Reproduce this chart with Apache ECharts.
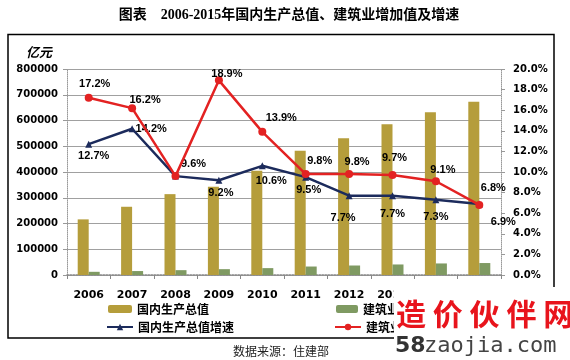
<!DOCTYPE html>
<html><head><meta charset="utf-8">
<script src="https://cdn.jsdelivr.net/npm/echarts@6/dist/echarts.min.js"></script>
<style>html,body{margin:0;padding:0;background:#fff}#c{width:570px;height:360px}</style>
</head><body><div id="c"></div>
<script>
var years = ['2006','2007','2008','2009','2010','2011','2012','2013','2014','2015'];
var gdp = [216000, 265000, 314000, 343000, 405000, 483000, 531000, 585000, 632000, 673000];
var construction = [12409, 15348, 18807, 22682, 26714, 32926, 36896, 40897, 44880, 46456];
var gdpGrowth = [12.7, 14.2, 9.6, 9.2, 10.6, 9.5, 7.7, 7.7, 7.3, 6.9];
var conGrowth = [17.2, 16.2, 9.6, 18.9, 13.9, 9.8, 9.8, 9.7, 9.1, 6.8];
var leftTicks = [0, 800000, 100000];
var rightTicks = [0, 20, 2];

// label placement (style only)
var conLab = [['top',[6,0]],['top',[13,5]],null,['top',[8,7]],['top',[19,0]],['top',[14,0]],['top',[8,1]],['top',[2,-4]],['top',[7,2]],['top',[14,-3]]];
var gdpLab = [['bottom',[5,-1]],['right',[-4,0]],['right',[-2,-12]],['bottom',[2,0]],['bottom',[9,2]],['bottom',[3,0]],['bottom',[-6,9]],['bottom',[0,5]],['bottom',[0,4]],['right',[4,18]]];

var labFont = {fontFamily:'Liberation Sans', fontWeight:'bold', fontSize:11, color:'#000'};
function withLabels(vals, labs){
  return vals.map(function(v,i){
    var l = labs[i];
    if(!l) return {value:v, label:{show:false}};
    return {value:v, label:Object.assign({show:true, position:l[0], offset:l[1], distance:4,
      formatter:function(p){return p.value.toFixed(1)+'%';}}, labFont)};
  });
}

var chart = echarts.init(document.getElementById('c'));
var axisFont = {fontFamily:'DejaVu Sans', fontWeight:'bold', fontSize:10, color:'#000'};
var legText = {fontWeight:'bold',fontSize:12,color:'#000',fontFamily:'Noto Sans CJK SC'};
chart.setOption({
  animation:false,
  grid:{left:67, right:69, top:69, bottom:85},
  legend:[
    {data:['国内生产总值'], left:103, top:298, itemWidth:24, itemHeight:8, itemGap:2, textStyle:legText},
    {data:['建筑业增加值'], left:331, top:298, itemWidth:22, itemHeight:8, textStyle:legText},
    {data:['国内生产总值增速'], left:101, top:316, itemWidth:26, itemHeight:8, textStyle:legText},
    {data:['建筑业增加值增速'], left:329, top:316, itemWidth:26, itemHeight:8, textStyle:legText}
  ],
  xAxis:{type:'category', data:years,
    axisLine:{lineStyle:{color:'#888', type:'dotted', width:1.5}},
    axisTick:{show:true, lineStyle:{color:'#888'}, length:4},
    axisLabel:Object.assign({margin:15}, axisFont, {fontSize:11})},
  yAxis:[
    {type:'value', min:leftTicks[0], max:leftTicks[1], interval:leftTicks[2],
     axisLine:{show:true, lineStyle:{color:'#999', type:'dotted'}},
     axisTick:{show:true, length:4, lineStyle:{color:'#999'}},
     splitLine:{lineStyle:{color:'#a0a0a0', width:1.2}},
     axisLabel:Object.assign({margin:9, formatter:function(v){return String(v);}}, axisFont)},
    {type:'value', min:rightTicks[0], max:rightTicks[1], interval:rightTicks[2],
     axisLine:{show:true, lineStyle:{color:'#999', type:'dotted'}},
     axisTick:{show:true, length:4, lineStyle:{color:'#999'}},
     splitLine:{show:false},
     axisLabel:Object.assign({margin:12, formatter:function(v){return v.toFixed(1)+'%';}}, axisFont)}
  ],
  series:[
    {name:'国内生产总值', type:'bar', data:gdp, barWidth:11, barGap:'0%', itemStyle:{color:'#b59d3b'}},
    {name:'建筑业增加值', type:'bar', data:construction, barWidth:11, itemStyle:{color:'#7f9a62'}},
    {name:'国内生产总值增速', type:'line', yAxisIndex:1, data:withLabels(gdpGrowth,gdpLab),
      symbol:'triangle', symbolSize:7, lineStyle:{color:'#1c2b5c', width:2.5}, itemStyle:{color:'#1c2b5c'}, z:3},
    {name:'建筑业增加值增速', type:'line', yAxisIndex:1, data:withLabels(conGrowth,conLab),
      symbol:'circle', symbolSize:8, lineStyle:{color:'#e32222', width:2.5}, itemStyle:{color:'#e32222'}, z:4}
  ],
  graphic:[
    {type:'rect', shape:{x:8, y:34.5, width:546, height:303.5}, style:{fill:'none', stroke:'#000', lineWidth:1.5}, z:-1},
    {type:'text', x:289, y:15, style:{text:'图表　2006-2015年国内生产总值、建筑业增加值及增速', fontFamily:'Liberation Serif, Noto Sans CJK SC', fontWeight:'bold', fontSize:14, fill:'#000', textAlign:'center', textVerticalAlign:'middle'}},
    {type:'text', x:39, y:52, style:{text:'亿元', fontFamily:'Noto Sans CJK SC', fontStyle:'italic', fontWeight:'bold', fontSize:13, fill:'#000', textAlign:'center', textVerticalAlign:'middle'}},
    {type:'text', x:281, y:351, style:{text:'数据来源：住建部', fontFamily:'Noto Sans CJK SC', fontSize:12, fill:'#222', textAlign:'center', textVerticalAlign:'middle'}},
    {type:'rect', shape:{x:394, y:287, width:176, height:73}, style:{fill:'#fff'}, z:50},
    {type:'text', x:396, y:314, style:{text:'造 价 伙 伴 网', fontFamily:'Noto Sans CJK SC', fontWeight:'bold', fontSize:30, fill:'#e8141c', textAlign:'left', textVerticalAlign:'middle'}, z:51},
    {type:'text', x:395, y:346, style:{text:'58', fontFamily:'DejaVu Sans', fontWeight:'bold', fontSize:22, fill:'#333', textAlign:'left', textVerticalAlign:'middle'}, z:51},
    {type:'text', x:424, y:346, style:{text:'zaojia.com', fontFamily:'DejaVu Sans Mono', fontSize:22, fill:'#444', textAlign:'left', textVerticalAlign:'middle'}, z:51}
  ]
});
</script></body></html>
